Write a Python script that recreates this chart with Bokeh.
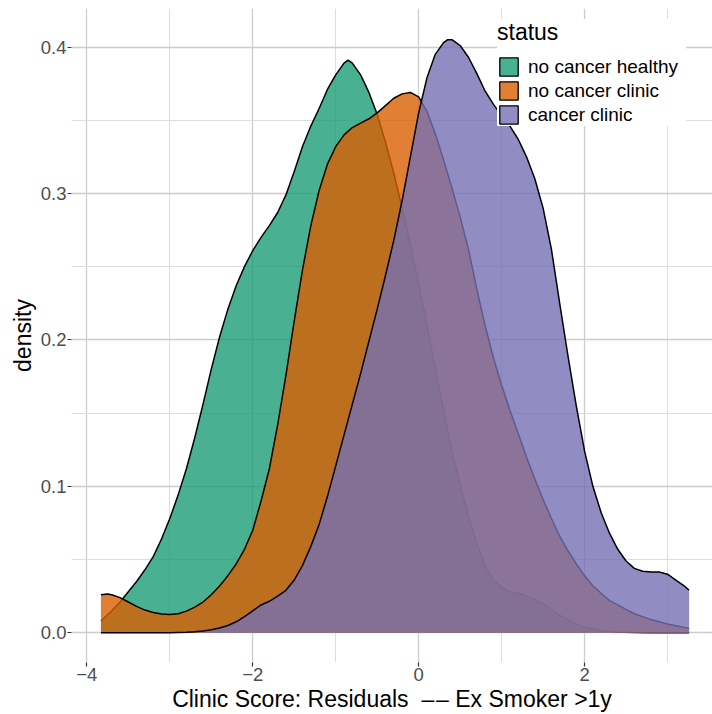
import numpy as np
from bokeh.plotting import figure
from bokeh.models import Range1d, FixedTicker, Legend, LegendItem, ColumnDataSource
from bokeh.embed import file_html
from bokeh.resources import INLINE

# Kernel density estimates of the clinic-score residuals (ex smokers > 1 year)
status_labels = ["no cancer healthy", "no cancer clinic", "cancer clinic"]
status_colors = ["#1B9E77", "#D95F02", "#7570B3"]

healthy_x = [-3.83, -3.7, -3.6, -3.5, -3.4, -3.3, -3.2, -3.1, -3.0, -2.9, -2.8, -2.7, -2.6,
             -2.5, -2.4, -2.3, -2.2, -2.1, -2.0, -1.9, -1.8, -1.7, -1.6, -1.5, -1.4, -1.3,
             -1.2, -1.1, -1.0, -0.9, -0.85, -0.8, -0.7, -0.6, -0.5, -0.4, -0.3, -0.2, -0.1,
             0.0, 0.1, 0.2, 0.3, 0.4, 0.5, 0.6, 0.7, 0.8, 0.9, 1.0, 1.1, 1.2, 1.3, 1.4,
             1.5, 1.6, 1.7, 1.8, 1.9, 2.0, 2.2, 2.4, 2.6, 2.8, 3.0, 3.26]
healthy_y = [0.008, 0.015, 0.021, 0.028, 0.035, 0.043, 0.052, 0.064, 0.078, 0.094, 0.112, 0.133, 0.156,
             0.180, 0.202, 0.221, 0.237, 0.250, 0.261, 0.270, 0.278, 0.287, 0.299, 0.315, 0.332, 0.346,
             0.358, 0.371, 0.381, 0.389, 0.391, 0.389, 0.381, 0.369, 0.354, 0.335, 0.314, 0.290, 0.265,
             0.238, 0.210, 0.181, 0.152, 0.125, 0.101, 0.080, 0.061, 0.046, 0.036, 0.031, 0.028, 0.027,
             0.025, 0.023, 0.020, 0.016, 0.012, 0.009, 0.006, 0.004, 0.0015, 0.0005, 0.0002, 0.0001,
             0.0, 0.0]

clinic_x = [-3.83, -3.75, -3.7, -3.6, -3.5, -3.4, -3.3, -3.2, -3.1, -3.0, -2.9, -2.8, -2.7,
            -2.6, -2.5, -2.4, -2.3, -2.2, -2.1, -2.0, -1.9, -1.8, -1.7, -1.6, -1.5, -1.4,
            -1.3, -1.2, -1.1, -1.0, -0.9, -0.8, -0.7, -0.6, -0.5, -0.4, -0.3, -0.2, -0.1,
            0.0, 0.1, 0.2, 0.3, 0.4, 0.5, 0.6, 0.7, 0.8, 0.9, 1.0, 1.1, 1.2, 1.3, 1.4, 1.5,
            1.6, 1.7, 1.8, 1.9, 2.0, 2.1, 2.2, 2.3, 2.4, 2.5, 2.6, 2.8, 3.0, 3.26]
clinic_y = [0.026, 0.0265, 0.026, 0.024, 0.021, 0.018, 0.0155, 0.0138, 0.0128, 0.0125, 0.013, 0.0148, 0.0175,
            0.021, 0.026, 0.032, 0.039, 0.047, 0.057, 0.070, 0.090, 0.112, 0.142, 0.176, 0.213, 0.248,
            0.278, 0.302, 0.320, 0.332, 0.340, 0.345, 0.348, 0.351, 0.355, 0.360, 0.365, 0.368, 0.369,
            0.366, 0.356, 0.341, 0.323, 0.304, 0.284, 0.262, 0.235, 0.210, 0.188, 0.169, 0.152, 0.136,
            0.120, 0.105, 0.091, 0.078, 0.066, 0.056, 0.047, 0.039, 0.032, 0.027, 0.022, 0.019, 0.016,
            0.013, 0.009, 0.006, 0.003]

cancer_x = [-3.83, -3.4, -3.0, -2.8, -2.7, -2.6, -2.5, -2.4, -2.3, -2.2, -2.1, -2.0, -1.9,
            -1.8, -1.7, -1.6, -1.5, -1.4, -1.3, -1.2, -1.1, -1.0, -0.9, -0.8, -0.7, -0.6,
            -0.5, -0.4, -0.3, -0.2, -0.1, 0.0, 0.1, 0.2, 0.3, 0.35, 0.4, 0.5, 0.6, 0.7,
            0.8, 0.9, 1.0, 1.1, 1.2, 1.3, 1.4, 1.5, 1.6, 1.7, 1.8, 1.9, 2.0, 2.1, 2.2,
            2.3, 2.4, 2.5, 2.6, 2.7, 2.8, 2.9, 3.0, 3.1, 3.2, 3.26]
cancer_y = [0.0, 0.0, 0.0001, 0.0004, 0.0007, 0.0012, 0.002, 0.0033, 0.005, 0.0075, 0.011, 0.015, 0.019,
            0.0215, 0.025, 0.029, 0.036, 0.046, 0.059, 0.074, 0.093, 0.114, 0.135, 0.156, 0.177, 0.199,
            0.221, 0.244, 0.268, 0.295, 0.325, 0.355, 0.379, 0.395, 0.403, 0.405, 0.405, 0.401, 0.393,
            0.382, 0.370, 0.361, 0.353, 0.346, 0.337, 0.325, 0.310, 0.290, 0.262, 0.225, 0.189, 0.155,
            0.124, 0.100, 0.082, 0.068, 0.057, 0.049, 0.044, 0.042, 0.0415, 0.0415, 0.040, 0.036, 0.032,
            0.029]

x_ticks = [-4, -2, 0, 2]
x_minor = [-3, -1, 1, 3]
y_ticks = [0.0, 0.1, 0.2, 0.3, 0.4]
y_minor = [0.05, 0.15, 0.25, 0.35]

FONT = "Liberation Sans"
TICK_SIZE = "18.5px"
LABEL_SIZE = "19px"
TITLE_SIZE = "23px"

p = figure(width=712, height=714, output_backend="svg", toolbar_location=None,
           x_range=Range1d(-4.185, 3.542), y_range=Range1d(-0.0203, 0.4263),
           min_border_left=71, min_border_right=0, min_border_top=8, min_border_bottom=51)
p.outline_line_color = None
p.background_fill_color = "white"
p.border_fill_color = "white"

series = [(healthy_x, healthy_y), (clinic_x, clinic_y), (cancer_x, cancer_y)]
items = []
for (xs, ys), label, color in zip(series, status_labels, status_colors):
    src = ColumnDataSource(dict(x=xs, y=ys, base=[0.0] * len(xs)))
    p.varea(x="x", y1="base", y2="y", source=src, fill_color=color, fill_alpha=0.8)
    p.line(x="x", y="y", source=src, line_color="black", line_width=1.5)
    # legend key: an undrawn rect that only lends its style to the legend
    key = p.rect(x=np.array([np.nan]), y=np.array([np.nan]), width=1, height=1,
                 fill_color=color, fill_alpha=0.8, line_color="black", line_width=1.3)
    items.append(LegendItem(label=label, renderers=[key]))

# axes
p.xaxis.ticker = FixedTicker(ticks=x_ticks, minor_ticks=x_minor)
p.yaxis.ticker = FixedTicker(ticks=y_ticks, minor_ticks=y_minor)
p.xaxis.major_label_overrides = {t: str(t).replace("-", "\u2212") for t in x_ticks}
p.yaxis.major_label_overrides = {t: f"{t:.1f}" for t in y_ticks}
for ax in (p.xaxis, p.yaxis):
    ax.axis_line_color = None
    ax.major_tick_line_color = "#333333"
    ax.major_tick_line_width = 1.2
    ax.major_tick_in = 0
    ax.major_tick_out = 4
    ax.minor_tick_line_color = None
    ax.major_label_text_font = FONT
    ax.major_label_text_font_size = TICK_SIZE
    ax.major_label_text_color = "#4D4D4D"
    ax.axis_label_text_font = FONT
    ax.axis_label_text_font_size = TITLE_SIZE
    ax.axis_label_text_font_style = "normal"
    ax.axis_label_text_color = "black"
p.xaxis.axis_label = "Clinic Score: Residuals\u00a0 \u2013\u200a\u2013 Ex Smoker >1y"
p.yaxis.axis_label = "density"
p.xaxis.major_label_standoff = 1
p.yaxis.major_label_standoff = 1
p.xaxis.axis_label_standoff = 2
p.yaxis.axis_label_standoff = 2

for g in (p.xgrid, p.ygrid):
    g.grid_line_color = "#CCCCCC"
    g.grid_line_width = 1.3
    g.minor_grid_line_color = "#DDDDDD"
    g.minor_grid_line_width = 1.0

legend = Legend(items=items, location=(426, 536), title="status",
                title_text_font=FONT, title_text_font_size=TITLE_SIZE,
                title_text_font_style="normal", title_text_color="black", title_standoff=9,
                label_text_font=FONT, label_text_font_size=LABEL_SIZE, label_text_color="black",
                glyph_width=23, glyph_height=23, label_standoff=8, label_width=158,
                spacing=1, padding=8, margin=0,
                background_fill_color="white", background_fill_alpha=1.0,
                border_line_color=None)
p.add_layout(legend)

open("out.html", "w").write(file_html(p, INLINE))
